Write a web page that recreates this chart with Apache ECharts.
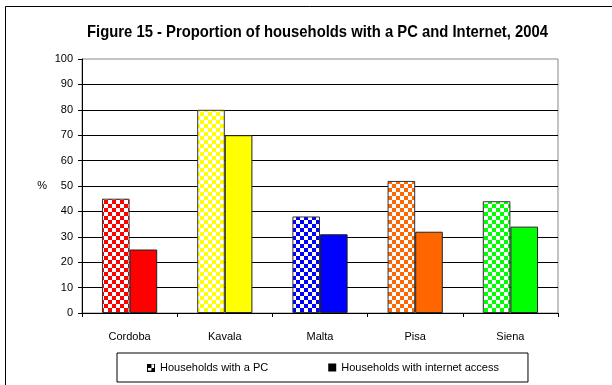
<!DOCTYPE html>
<html><head><meta charset="utf-8">
<script src="https://cdn.jsdelivr.net/npm/echarts@6/dist/echarts.min.js"></script>
<style>html,body{margin:0;padding:0;background:#fff}#c{width:612px;height:385px}</style>
</head><body><div id="c"></div>
<script>
const categories = ['Cordoba', 'Kavala', 'Malta', 'Pisa', 'Siena'];
const pcValues = [45, 80, 38, 52, 44];
const internetValues = [25, 70, 31, 32, 34];
const barColors = ['#FF0000', '#FFFF00', '#0000FF', '#FF6600', '#00FF00'];
const yTicks = [0, 10, 20, 30, 40, 50, 60, 70, 80, 90, 100];
const seriesNames = ['Households with a PC', 'Households with internet access'];
const titleText = 'Figure 15 - Proportion of households with a PC and Internet, 2004';

function checker(color, cell) {
  const c = document.createElement('canvas');
  c.width = cell * 2; c.height = cell * 2;
  const g = c.getContext('2d');
  g.fillStyle = '#fff'; g.fillRect(0, 0, c.width, c.height);
  g.fillStyle = color;
  g.fillRect(0, 0, cell, cell);
  g.fillRect(cell, cell, cell, cell);
  return c;
}
function legendIconPC() {
  const c = document.createElement('canvas');
  c.width = 9; c.height = 9;
  const g = c.getContext('2d');
  g.fillStyle = '#fff'; g.fillRect(0, 0, 9, 9);
  g.fillStyle = '#000';
  g.fillRect(0, 0, 9, 1); g.fillRect(0, 8, 9, 1); g.fillRect(0, 0, 1, 9); g.fillRect(8, 0, 1, 9);
  g.fillRect(1, 1, 4, 4); g.fillRect(5, 5, 3, 3);
  return 'image://' + c.toDataURL();
}

const FONT = '"Liberation Sans", Arial, sans-serif';
const TITLE_FONT = 'bold 17px "Liberation Sans", Arial, sans-serif';
const mc = document.createElement('canvas').getContext('2d');
mc.font = TITLE_FONT;
const titleW = mc.measureText(titleText).width;
const titleScale = 461 / titleW;

const chart = echarts.init(document.getElementById('c'), null, {renderer: 'canvas'});

chart.setOption({
  animation: false,
  backgroundColor: '#fff',
  textStyle: {fontFamily: FONT},
  graphic: [{
    type: 'rect', z: -1, silent: true,
    shape: {x: 5.5, y: 6.5, width: 700, height: 500},
    style: {fill: 'none', stroke: '#000', lineWidth: 1}
  }, {
    type: 'text', silent: true,
    x: 87, y: 32, scaleX: titleScale, originX: 0, originY: 0,
    style: {text: titleText, font: TITLE_FONT, fill: '#000', textAlign: 'left', textVerticalAlign: 'middle'}
  }],
  legend: {
    left: 117, top: 353,
    padding: [9, 29, 9, 30],
    borderColor: '#000', borderWidth: 1,
    itemWidth: 8, itemHeight: 8, itemGap: 60,
    textStyle: {fontSize: 11, color: '#000', fontFamily: FONT},
    data: [
      {name: seriesNames[0], icon: legendIconPC()},
      {name: seriesNames[1], icon: 'rect', itemStyle: {color: '#000', borderWidth: 0}}
    ]
  },
  grid: {left: 82, right: 54, top: 59, bottom: 72, show: true, borderColor: '#888', borderWidth: 1, containLabel: false},
  xAxis: {
    type: 'category', data: categories,
    axisLine: {lineStyle: {color: '#000', width: 1}},
    axisTick: {show: true, length: 4, lineStyle: {color: '#000'}},
    axisLabel: {fontSize: 11, color: '#000', margin: 18, fontFamily: FONT}
  },
  yAxis: {
    type: 'value', min: 0, max: 100, interval: 10,
    name: '%', nameLocation: 'middle', nameRotate: 0, nameGap: 35,
    nameTextStyle: {fontSize: 11, color: '#000', fontFamily: FONT},
    axisLine: {show: true, lineStyle: {color: '#000'}},
    axisTick: {show: true, length: 4, lineStyle: {color: '#000'}},
    axisLabel: {fontSize: 11, color: '#000', margin: 9, fontFamily: FONT,
      formatter: v => yTicks.includes(v) ? String(v) : ''},
    splitLine: {show: true, showMaxLine: false, lineStyle: {color: '#000', width: 1}}
  },
  series: [
    {
      name: seriesNames[0], type: 'bar', barGap: '0%', barCategoryGap: '42%',
      itemStyle: {color: '#000'},
      data: pcValues.map((v, i) => ({value: v, itemStyle: {color: {image: checker(barColors[i], 4), repeat: 'repeat'}, borderColor: '#333', borderWidth: 1}}))
    },
    {
      name: seriesNames[1], type: 'bar', barGap: '0%', barCategoryGap: '42%',
      itemStyle: {color: '#000'},
      data: internetValues.map((v, i) => ({value: v, itemStyle: {color: barColors[i], borderColor: '#222', borderWidth: 1}}))
    }
  ]
});
</script></body></html>
